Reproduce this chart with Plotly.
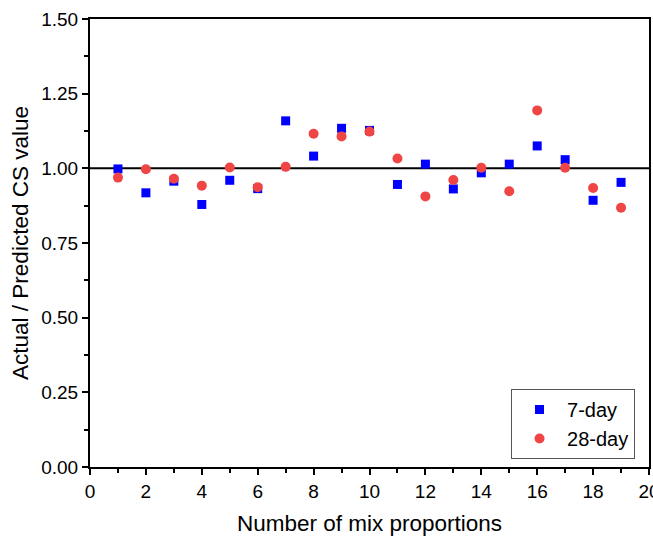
import plotly.graph_objects as go

mix = list(range(1, 20))
day7 = [0.998, 0.918, 0.957, 0.879, 0.960, 0.932, 1.159, 1.041, 1.134, 1.127,
        0.946, 1.014, 0.931, 0.985, 1.014, 1.075, 1.029, 0.893, 0.953]
day28 = [0.969, 0.997, 0.965, 0.942, 1.003, 0.937, 1.005, 1.116, 1.107, 1.123,
         1.033, 0.906, 0.961, 1.002, 0.923, 1.194, 1.002, 0.934, 0.868]
x_ticks = list(range(0, 21, 2))
y_ticks = [0.0, 0.25, 0.5, 0.75, 1.0, 1.25, 1.5]

FONT = "Liberation Sans, Arial, sans-serif"

fig = go.Figure()
fig.add_trace(go.Scatter(x=mix, y=day7, mode="markers", name="7-day",
                         marker=dict(symbol="square", size=9, color="#0000FF")))
fig.add_trace(go.Scatter(x=mix, y=day28, mode="markers", name="28-day",
                         marker=dict(symbol="circle", size=10, color="#F04545")))

fig.add_shape(type="line", xref="paper", x0=0, x1=1, yref="y", y0=1.0, y1=1.0,
              line=dict(color="black", width=2), layer="below")

axis_common = dict(showgrid=False, zeroline=False, showline=True, linecolor="black",
                   linewidth=2, mirror=True, ticks="outside", tickcolor="black",
                   ticklen=6, tickwidth=2, ticklabeloverflow="allow", automargin=False,
                   tickfont=dict(family=FONT, size=19, color="black"))

fig.update_xaxes(range=[0, 20], tickvals=x_ticks, ticktext=[str(v) for v in x_ticks],
                 minor=dict(dtick=1, ticks="outside", ticklen=4, tickwidth=2, tickcolor="black"),
                 title=dict(text="Number of mix proportions", font=dict(family=FONT, size=22.5, color="black"),
                            standoff=14),
                 **axis_common)
fig.update_yaxes(range=[0, 1.5], tickvals=y_ticks, ticktext=[f"{v:.2f}" for v in y_ticks],
                 minor=dict(dtick=0.125, ticks="outside", ticklen=4, tickwidth=2, tickcolor="black"),
                 title=dict(text="Actual / Predicted CS value", font=dict(family=FONT, size=22.5, color="black"),
                            standoff=6),
                 **axis_common)

fig.update_layout(
    width=653, height=538,
    margin=dict(l=90, r=4, t=19, b=71),
    plot_bgcolor="white", paper_bgcolor="white",
    showlegend=True,
    legend=dict(x=0.975, y=0.096, xanchor="right", yanchor="middle",
                bordercolor="#555555", borderwidth=1, bgcolor="white",
                font=dict(family=FONT, size=20, color="black"),
                itemwidth=45, tracegroupgap=0),
)

fig.write_html("out.html")
